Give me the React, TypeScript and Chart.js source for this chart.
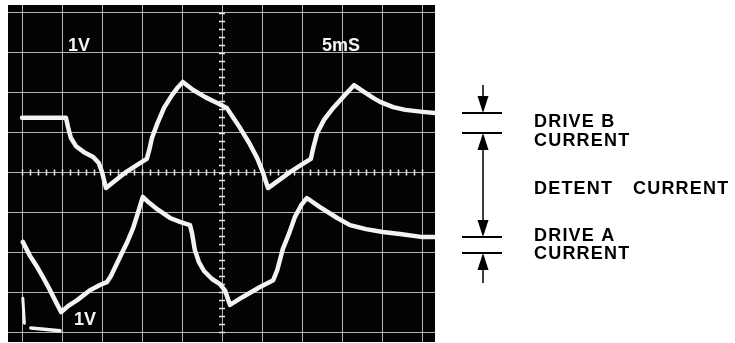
import React, { useEffect, useRef } from "react";
import { Chart, registerables } from "chart.js";

Chart.register(...registerables);

// Oscilloscope grid divisions
const xDivisions = [0, 1, 2, 3, 4, 5, 6, 7, 8, 9, 10];
const yDivisions = [-4, -3, -2, -1, 0, 1, 2, 3, 4];

// Drive B current trace (upper), time in divisions / level in divisions
const driveBTime = [
  0, 1.1, 1.15, 1.22, 1.35, 1.55, 1.78, 1.92, 2.0, 2.1, 2.35, 2.6, 2.88, 3.12, 3.18, 3.25, 3.38, 3.55, 3.75,
  3.9, 4.02, 4.28, 4.58, 4.88, 5.12, 5.25, 5.45, 5.68, 5.88, 6.02, 6.15, 6.4, 6.7, 6.98, 7.22, 7.28, 7.38,
  7.55, 7.78, 8.05, 8.3, 8.55, 8.78, 8.95, 9.28, 9.58, 10.02, 10.32,
];
const driveBLevel = [
  1.37, 1.37, 1.14, 0.87, 0.66, 0.51, 0.39, 0.24, 0.01, -0.39, -0.19, 0.01, 0.19, 0.34, 0.56, 0.87, 1.22, 1.62,
  1.94, 2.14, 2.27, 2.07, 1.89, 1.74, 1.62, 1.42, 1.12, 0.74, 0.36, 0.01, -0.39, -0.21, 0.01, 0.19, 0.34, 0.61,
  0.99, 1.32, 1.62, 1.92, 2.19, 2.02, 1.87, 1.77, 1.64, 1.57, 1.52, 1.49,
];

// Drive A current trace (lower)
const driveATime = [
  0.02, 0.2, 0.38, 0.55, 0.7, 0.85, 0.98, 1.15, 1.38, 1.7, 1.95, 2.12, 2.22, 2.45, 2.62, 2.78, 2.92, 3.02,
  3.18, 3.38, 3.7, 3.95, 4.2, 4.25, 4.32, 4.42, 4.55, 4.75, 4.95, 5.08, 5.2, 5.52, 5.95, 6.28, 6.38, 6.52,
  6.68, 6.82, 6.98, 7.12, 7.45, 7.88, 8.2, 8.6, 9.02, 9.45, 10.02, 10.32,
];
const driveALevel = [
  -1.74, -2.09, -2.37, -2.67, -2.95, -3.25, -3.5, -3.35, -3.2, -2.95, -2.82, -2.75, -2.6, -2.12, -1.77, -1.39,
  -0.94, -0.61, -0.76, -0.92, -1.14, -1.24, -1.32, -1.52, -1.94, -2.24, -2.47, -2.67, -2.8, -2.97, -3.32,
  -3.12, -2.87, -2.7, -2.45, -1.92, -1.52, -1.12, -0.82, -0.64, -0.87, -1.14, -1.32, -1.42, -1.49, -1.54,
  -1.62, -1.62,
];

// Small trace stubs at the lower left of the screen
const stubVerticalTime = [0.02, 0.06];
const stubVerticalLevel = [-3.15, -3.78];
const stubFlatTime = [0.22, 0.95];
const stubFlatLevel = [-3.9, -3.97];

// Screen labels: text, time position, level (baseline)
const screenLabelText = ["1V", "5mS", "1V"];
const screenLabelTime = [1.15, 7.5, 1.3];
const screenLabelLevel = [3.05, 3.05, -3.82];

// Annotation levels (in divisions): drive B pair, drive A pair
const annotationLevels = [1.49, 0.99, -1.62, -2.02];
const annotationText = ["DRIVE B", "CURRENT", "DETENT", "CURRENT", "DRIVE A", "CURRENT"];

const toPoints = (xs: number[], ys: number[]) => xs.map((x, i) => ({ x, y: ys[i] }));

const screenPlugin = {
  id: "screen",
  beforeDraw(chart: any) {
    const { ctx, chartArea } = chart;
    ctx.save();
    ctx.fillStyle = "#ffffff";
    ctx.fillRect(0, 0, chart.width, chart.height);
    ctx.fillStyle = "#030303";
    ctx.fillRect(chartArea.left, chartArea.top, chartArea.right - chartArea.left, chartArea.bottom - chartArea.top);
    ctx.restore();
  },
  beforeDatasetsDraw(chart: any) {
    const { ctx, scales } = chart;
    const xs = scales.x;
    const ys = scales.y;
    const cx = xs.getPixelForValue(5);
    const cy = ys.getPixelForValue(0);
    ctx.save();
    ctx.strokeStyle = "rgba(235,235,235,1)";
    ctx.lineWidth = 1.5;
    ctx.beginPath();
    for (let i = 0; i <= 50; i++) {
      const px = Math.round(xs.getPixelForValue(i * 0.2)) + 0.5;
      ctx.moveTo(px, cy - 3);
      ctx.lineTo(px, cy + 3);
    }
    for (let i = -20; i <= 20; i++) {
      const py = Math.round(ys.getPixelForValue(i * 0.2)) + 0.5;
      ctx.moveTo(cx - 3, py);
      ctx.lineTo(cx + 3, py);
    }
    ctx.stroke();
    ctx.restore();
  },
  afterDatasetsDraw(chart: any) {
    const { ctx, scales } = chart;
    ctx.save();
    ctx.fillStyle = "#f4f4f4";
    ctx.font = 'bold 18px "Liberation Sans", Arial, sans-serif';
    ctx.textBaseline = "alphabetic";
    screenLabelText.forEach((t, i) => {
      ctx.fillText(t, scales.x.getPixelForValue(screenLabelTime[i]), scales.y.getPixelForValue(screenLabelLevel[i]));
    });
    ctx.restore();
  },
  afterDraw(chart: any) {
    const { ctx, chartArea, scales } = chart;
    const ys = scales.y;
    const [bTop, bBot, aTop, aBot] = annotationLevels.map((v) => ys.getPixelForValue(v));
    const lx0 = chartArea.right + 27;
    const lx1 = chartArea.right + 67;
    const ax = chartArea.right + 48;
    const tx = chartArea.right + 99;
    ctx.save();
    ctx.strokeStyle = "#000";
    ctx.fillStyle = "#000";
    ctx.lineWidth = 2;
    ctx.beginPath();
    [bTop, bBot, aTop, aBot].forEach((y) => {
      ctx.moveTo(lx0, y);
      ctx.lineTo(lx1, y);
    });
    ctx.stroke();
    ctx.lineWidth = 1.5;
    const head = (tipY: number, dir: number) => {
      ctx.beginPath();
      ctx.moveTo(ax, tipY);
      ctx.lineTo(ax - 5.5, tipY - dir * 17);
      ctx.lineTo(ax + 5.5, tipY - dir * 17);
      ctx.closePath();
      ctx.fill();
    };
    ctx.beginPath();
    ctx.moveTo(ax, bTop - 28);
    ctx.lineTo(ax, bTop - 10);
    ctx.moveTo(ax, bBot + 10);
    ctx.lineTo(ax, aTop - 10);
    ctx.moveTo(ax, aBot + 10);
    ctx.lineTo(ax, aBot + 30);
    ctx.stroke();
    head(bTop, 1);
    head(bBot, -1);
    head(aTop, 1);
    head(aBot, -1);

    ctx.font = 'bold 18px "Liberation Sans", Arial, sans-serif';
    (ctx as any).letterSpacing = "1.2px";
    ctx.textBaseline = "alphabetic";
    const mid = (bBot + aTop) / 2 + 9;
    ctx.fillText(annotationText[0], tx, bTop + 14);
    ctx.fillText(annotationText[1], tx, bBot + 13);
    ctx.fillText(annotationText[2], tx, mid);
    ctx.fillText(annotationText[3], tx + 99, mid);
    ctx.fillText(annotationText[4], tx, aTop + 4);
    ctx.fillText(annotationText[5], tx, aBot + 6);
    ctx.restore();
  },
};

export default function App() {
  const canvasRef = useRef<HTMLCanvasElement | null>(null);

  useEffect(() => {
    if (!canvasRef.current) return;
    const traceStyle = {
      borderColor: "#f3f3f3",
      borderWidth: 4.5,
      pointRadius: 0,
      tension: 0,
      borderJoinStyle: "round" as const,
      borderCapStyle: "round" as const,
      fill: false,
    };
    const gridOpts = { color: "rgba(190,190,190,0.95)", lineWidth: 1, drawTicks: false };
    const chart = new Chart(canvasRef.current, {
      type: "line",
      data: {
        datasets: [
          { label: "Drive B", data: toPoints(driveBTime, driveBLevel), ...traceStyle },
          { label: "Drive A", data: toPoints(driveATime, driveALevel), ...traceStyle },
          { label: "stub1", data: toPoints(stubVerticalTime, stubVerticalLevel), ...traceStyle, borderWidth: 3 },
          { label: "stub2", data: toPoints(stubFlatTime, stubFlatLevel), ...traceStyle, borderWidth: 3.5 },
        ],
      },
      options: {
        responsive: false,
        animation: false,
        devicePixelRatio: 1,
        layout: { padding: { left: 8, top: 5, right: 300, bottom: 1 } },
        plugins: { legend: { display: false }, tooltip: { enabled: false } },
        scales: {
          x: {
            type: "linear",
            min: -0.35,
            max: 10.325,
            ticks: { display: false },
            grid: gridOpts,
            border: { display: false },
            afterBuildTicks: (s: any) => {
              s.ticks = xDivisions.map((v) => ({ value: v }));
            },
          },
          y: {
            type: "linear",
            min: -4.25,
            max: 4.2,
            ticks: { display: false },
            grid: gridOpts,
            border: { display: false },
            afterBuildTicks: (s: any) => {
              s.ticks = yDivisions.map((v) => ({ value: v }));
            },
          },
        },
      },
      plugins: [screenPlugin],
    });
    return () => chart.destroy();
  }, []);

  return (
    <div style={{ position: "absolute", left: 0, top: 0, width: 735, height: 343, background: "#fff" }}>
      <canvas ref={canvasRef} width={735} height={343} />
    </div>
  );
}
